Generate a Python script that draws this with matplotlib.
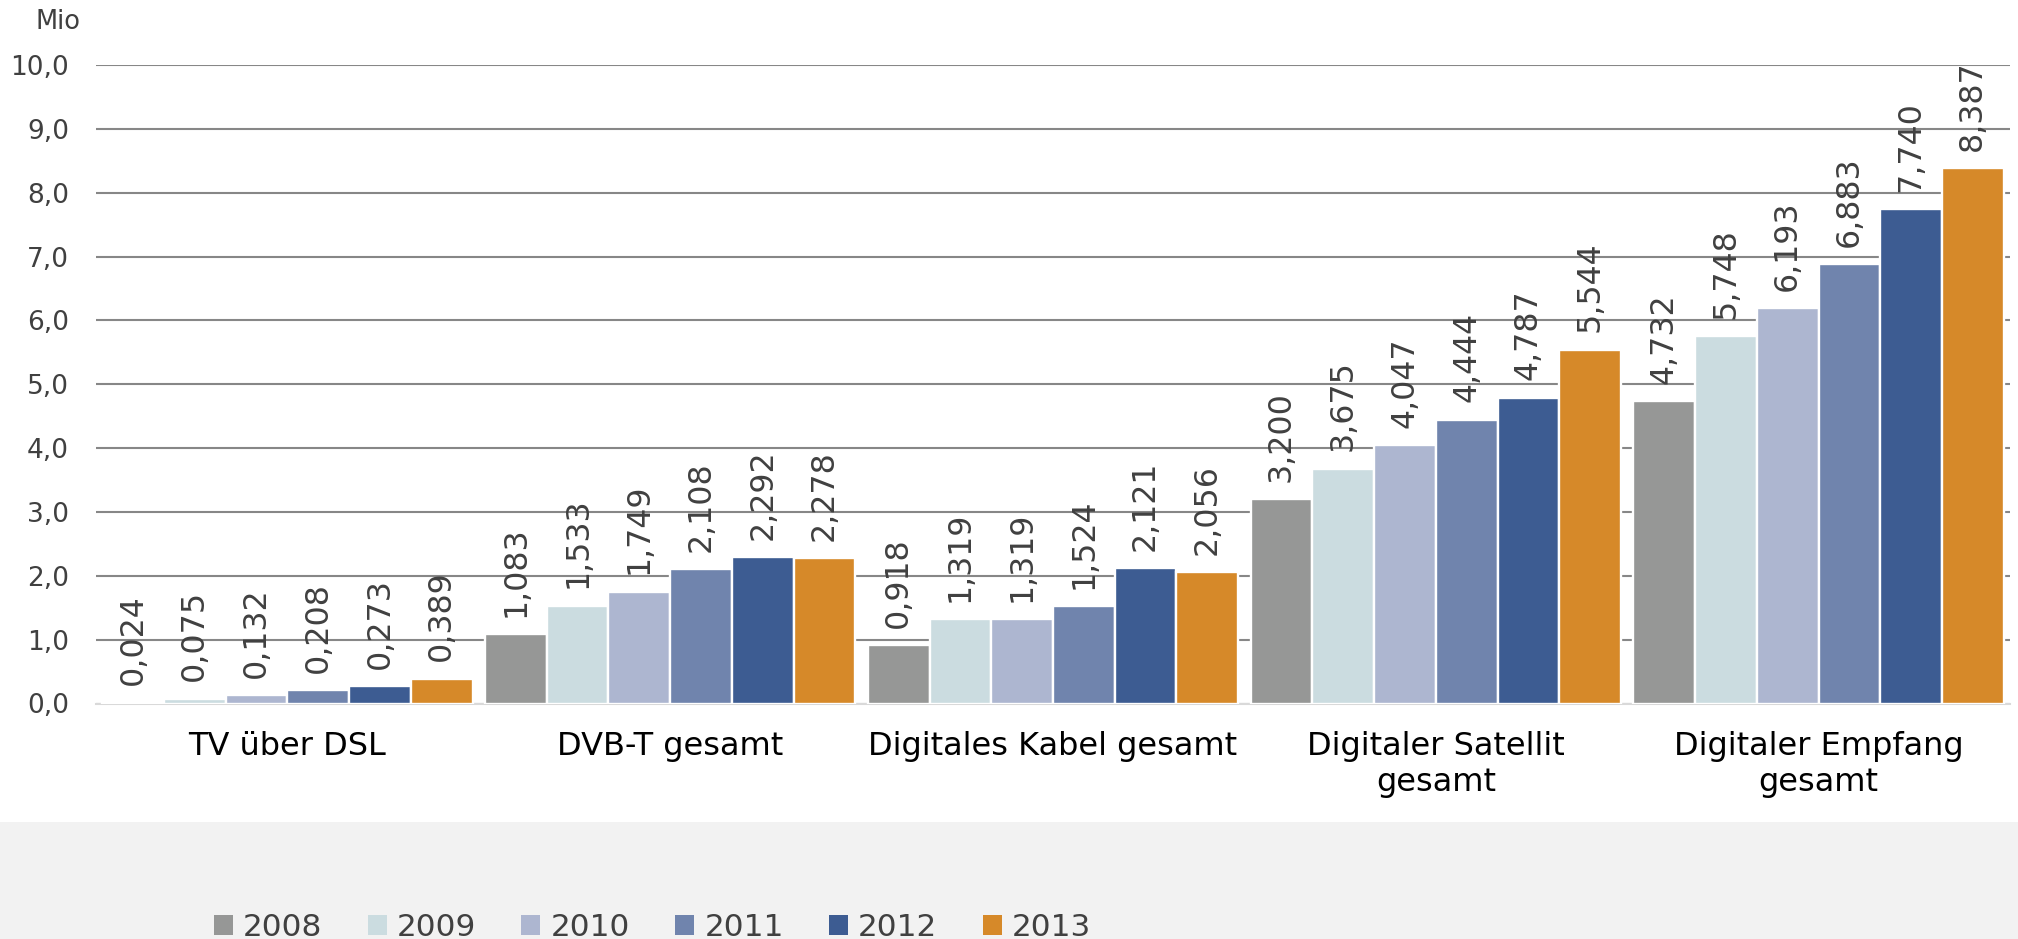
import matplotlib
matplotlib.use("Agg")
import matplotlib.pyplot as plt
from matplotlib.patches import Rectangle, Patch
import numpy as np

plt.rcParams['font.family'] = ['DejaVu Sans']

categories = ["TV über DSL", "DVB-T gesamt", "Digitales Kabel gesamt",
              "Digitaler Satellit\ngesamt", "Digitaler Empfang\ngesamt"]
years = ["2008", "2009", "2010", "2011", "2012", "2013"]
v2008 = [0.024, 1.083, 0.918, 3.200, 4.732]
v2009 = [0.075, 1.533, 1.319, 3.675, 5.748]
v2010 = [0.132, 1.749, 1.319, 4.047, 6.193]
v2011 = [0.208, 2.108, 1.524, 4.444, 6.883]
v2012 = [0.273, 2.292, 2.121, 4.787, 7.740]
v2013 = [0.389, 2.278, 2.056, 5.544, 8.387]
series = [v2008, v2009, v2010, v2011, v2012, v2013]
colors = ["#969796", "#cbdce0", "#adb6d0", "#7084ad", "#3d5c92", "#d68929"]
yticks = [0, 1, 2, 3, 4, 5, 6, 7, 8, 9, 10]

W, H = 2018, 939
fig = plt.figure(figsize=(W / 100, H / 100), dpi=100)
fig.patch.set_facecolor("white")
# grey bottom band
fig.patches.append(Rectangle((0, 0), 1, 117 / H, transform=fig.transFigure,
                             facecolor="#f2f2f2", edgecolor="none", zorder=0))

ax = fig.add_axes([96 / W, 1 - 703.5 / H, (2010 - 96) / W, (703.5 - 65) / H])
ax.set_facecolor("none")

pitch = 0.1612
x = np.arange(len(categories))
for j, (vals, col) in enumerate(zip(series, colors)):
    xs = x + (j - 2.5) * pitch
    ax.bar(xs, vals, width=pitch, color=col, edgecolor="white",
           linewidth=1.7, zorder=3)
    for xi, v in zip(xs, vals):
        ax.annotate(f"{v:.3f}".replace(".", ","), (xi, v), xytext=(0, 12.5),
                    textcoords="offset points", rotation=90, ha="center",
                    va="bottom", fontsize=22.8, color="#404040",
                    zorder=5, annotation_clip=False)

ax.set_xlim(-0.5, 4.5)
ax.set_ylim(0, 10)
ax.set_yticks(yticks)
ax.set_yticklabels([f"{t:.1f}".replace(".", ",") for t in yticks])
ax.yaxis.grid(True, color="#878787", linewidth=1.5, zorder=1)
ax.set_axisbelow(True)
ax.tick_params(axis="y", length=0, pad=19.4, labelsize=19, labelcolor="#404040")
ax.set_xticks(x)
ax.set_xticklabels(categories)
ax.tick_params(axis="x", length=0, pad=20, labelsize=23, labelcolor="black")
for s in ["top", "right", "left"]:
    ax.spines[s].set_visible(False)
ax.spines["bottom"].set_color("#d9d9d9")
ax.spines["bottom"].set_linewidth(1.5)

fig.text(35 / W, 1 - 29 / H, "Mio", fontsize=18.5, color="#404040",
         ha="left", va="baseline")

handles = [Patch(facecolor=c, edgecolor="none") for c in colors]
fig.legend(handles, years, loc="center left", bbox_to_anchor=(214 / W, 1 - 927.5 / H),
           ncol=6, frameon=False, fontsize=22.4, labelcolor="#404040",
           handlelength=0.61, handleheight=0.61, handletextpad=0.33,
           columnspacing=1.45, borderpad=0, borderaxespad=0)

fig.savefig("out.png", dpi=100, facecolor=fig.get_facecolor())
